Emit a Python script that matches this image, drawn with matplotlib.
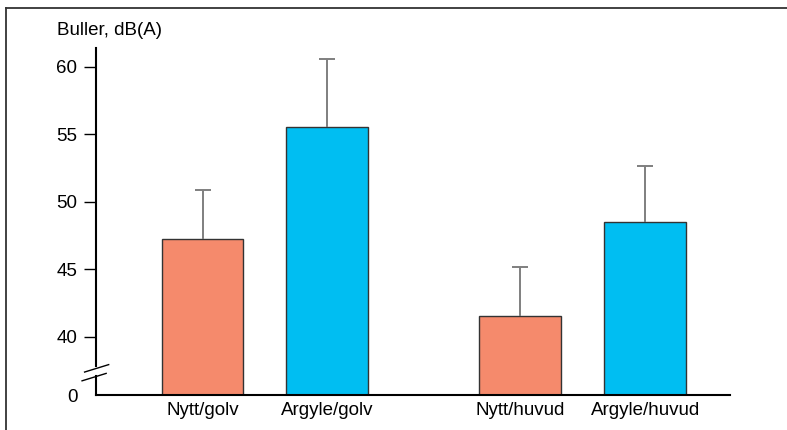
import matplotlib
matplotlib.use('Agg')
import matplotlib.pyplot as plt
from matplotlib.lines import Line2D
import numpy as np

plt.rcParams['font.family'] = ['Liberation Sans', 'DejaVu Sans']

# data
categories = ['Nytt/golv', 'Argyle/golv', 'Nytt/huvud', 'Argyle/huvud']
means = [47.25, 55.55, 41.55, 48.5]
sd = [3.65, 5.05, 3.65, 4.15]
colors = ['#F58A6C', '#00BEF2', '#F58A6C', '#00BEF2']
ytick_vals = [40, 45, 50, 55, 60]

# broken axis: the "0" baseline is drawn just below 40
base = 35.7
xpos = np.array([1, 2, 3.545, 4.55])

fig = plt.figure(figsize=(7.87, 4.3), dpi=100)
ax = fig.add_axes([96 / 787, 1 - 395 / 430, 634 / 787, (395 - 48) / 430])

heights = [m - base for m in means]
ax.bar(xpos, heights, bottom=base, width=0.657, color=colors,
       edgecolor='#333333', linewidth=1.0, zorder=2)
eb = ax.errorbar(xpos, means, yerr=[np.zeros(len(sd)), sd], fmt='none',
                 ecolor='#7f7f7f', elinewidth=1.4, capsize=5.8, capthick=1.4, zorder=3)
# only the upper caps are shown
for cl in eb[1]:
    if np.allclose(cl.get_ydata(), means):
        cl.set_visible(False)

ax.set_xlim(0.146, 5.229)
ax.set_ylim(base, 61.4)

ax.set_yticks([base] + ytick_vals)
ax.set_yticklabels(['0'] + [str(v) for v in ytick_vals])
ax.yaxis.get_major_ticks()[0].tick1line.set_visible(False)
ax.set_xticks(xpos)
ax.set_xticklabels(categories)
ax.tick_params(axis='y', length=8.5, width=1.0, pad=5, labelsize=13.5, color='black')
ax.tick_params(axis='x', length=0, pad=5, labelsize=13.5)

for s in ['top', 'right', 'left']:
    ax.spines[s].set_visible(False)
ax.spines['bottom'].set_linewidth(1.5)

# left spine with a break
brk_hi = 37.85
brk_lo = 37.1
ax.plot([0.146, 0.146], [brk_hi, 61.4], color='black', lw=1.5, clip_on=False, zorder=4)
ax.plot([0.146, 0.146], [base, brk_lo], color='black', lw=1.5, clip_on=False, zorder=4)
tr = ax.get_yaxis_transform()
ax.plot([-0.018, 0.02], [37.4, 37.95], transform=tr, color='black', lw=1.0, clip_on=False)
ax.plot([-0.022, 0.016], [36.75, 37.3], transform=tr, color='black', lw=1.0, clip_on=False)

ax.text(-0.0615, 1.026, 'Buller, dB(A)', transform=ax.transAxes, fontsize=13.5,
        ha='left', va='bottom')

# frame around the figure (top and left)
fig.add_artist(Line2D([6 / 787, 1], [1 - 8 / 430, 1 - 8 / 430], color='#333333', lw=1.3))
fig.add_artist(Line2D([6 / 787, 6 / 787], [0, 1 - 8 / 430], color='#333333', lw=1.3))

fig.savefig('out.png', dpi=100, facecolor='white')
